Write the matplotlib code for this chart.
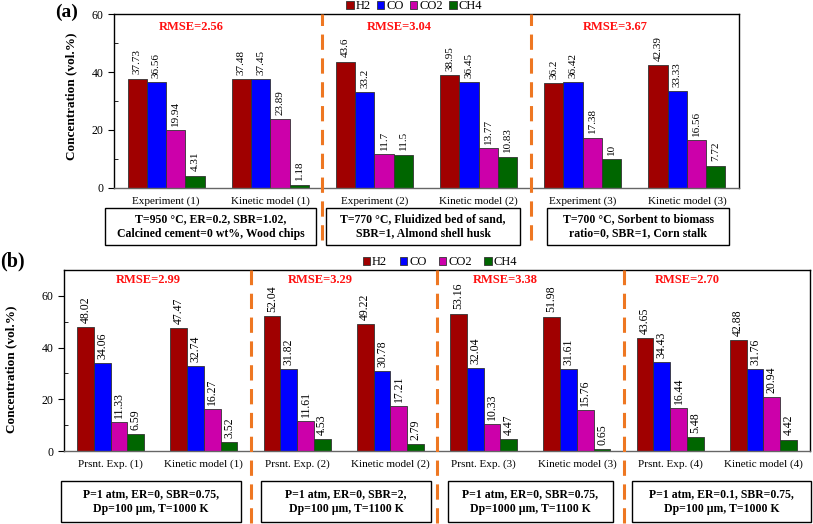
import numpy as np
import matplotlib
matplotlib.use("Agg")
import matplotlib.pyplot as plt
from matplotlib.patches import Rectangle, Patch
from matplotlib.ticker import MultipleLocator

plt.rcParams['font.family'] = ['Liberation Serif', 'DejaVu Serif']
plt.rcParams['mathtext.fontset'] = 'stix'

gases = ["H2", "CO", "CO2", "CH4"]
colors = ["#A00000", "#0000FF", "#CC00AA", "#006600"]

# panel (a)
cases_a = ["Experiment (1)", "Kinetic model (1)", "Experiment (2)", "Kinetic model (2)",
           "Experiment (3)", "Kinetic model (3)"]
h2_a = [37.73, 37.48, 43.6, 38.95, 36.2, 42.39]
co_a = [36.56, 37.45, 33.2, 36.45, 36.42, 33.33]
co2_a = [19.94, 23.89, 11.7, 13.77, 17.38, 16.56]
ch4_a = [4.31, 1.18, 11.5, 10.83, 10, 7.72]
rmse_a = ["RMSE=2.56", "RMSE=3.04", "RMSE=3.67"]
cond_a = ["T=950 °C, ER=0.2, SBR=1.02,\nCalcined cement=0 wt%, Wood chips",
          "T=770 °C, Fluidized bed of sand,\nSBR=1, Almond shell husk",
          "T=700 °C, Sorbent to biomass\nratio=0, SBR=1, Corn stalk"]

# panel (b)
cases_b = ["Prsnt. Exp. (1)", "Kinetic model (1)", "Prsnt. Exp. (2)", "Kinetic model (2)",
           "Prsnt. Exp. (3)", "Kinetic model (3)", "Prsnt. Exp. (4)", "Kinetic model (4)"]
h2_b = [48.02, 47.47, 52.04, 49.22, 53.16, 51.98, 43.65, 42.88]
co_b = [34.06, 32.74, 31.82, 30.78, 32.04, 31.61, 34.43, 31.76]
co2_b = [11.33, 16.27, 11.61, 17.21, 10.33, 15.76, 16.44, 20.94]
ch4_b = [6.59, 3.52, 4.53, 2.79, 4.47, 0.65, 5.48, 4.42]
rmse_b = ["RMSE=2.99", "RMSE=3.29", "RMSE=3.38", "RMSE=2.70"]
cond_b = ["P=1 atm, ER=0, SBR=0.75,\nDp=100 µm, T=1000 K",
          "P=1 atm, ER=0, SBR=2,\nDp=100 µm, T=1100 K",
          "P=1 atm, ER=0, SBR=0.75,\nDp=1000 µm, T=1100 K",
          "P=1 atm, ER=0.1, SBR=0.75,\nDp=100 µm, T=1000 K"]

W, H = 813, 524
fig = plt.figure(figsize=(W / 100, H / 100), dpi=100)


def px_axes(l, r, t, b):
    return fig.add_axes([l / W, 1 - b / H, (r - l) / W, (b - t) / H])


def draw_panel(ax, cases, series, bw, ymax, vsize, rmse, rmse_x, rmse_y, dash_ymin):
    x = np.arange(len(cases))
    for k, vals in enumerate(series):
        pos = x + (k - 1.5) * bw
        ax.bar(pos, vals, bw, color=colors[k], edgecolor="#333333", linewidth=0.6)
        for xi, v in zip(pos, vals):
            ax.annotate(f"{v:g}", (xi, v), xytext=(0, 3), textcoords="offset points",
                        rotation=90, ha="center", va="bottom", fontsize=vsize)
    ax.set_xlim(-0.5, len(cases) - 0.5)
    ax.set_ylim(0, ymax)
    ax.set_xticks(x)
    ax.set_xticklabels(cases, fontsize=8)
    ax.tick_params(axis="x", length=0, pad=6)
    ax.yaxis.set_major_locator(MultipleLocator(20))
    ax.yaxis.set_minor_locator(MultipleLocator(10))
    ax.tick_params(axis="y", which="major", direction="out", length=4, labelsize=8.5)
    ax.tick_params(axis="y", which="minor", direction="in", length=3)
    for s in ax.spines.values():
        s.set_linewidth(1.0)
    ax.spines["bottom"].set_color("#666666")
    for d in np.arange(1.5, len(cases) - 1, 2):
        ax.axvline(d, ymin=dash_ymin, ymax=1, color="#EE7722", lw=2.2,
                   ls=(0, (5, 2.8)), clip_on=False, zorder=5)
    for t, rx in zip(rmse, rmse_x):
        ax.text(rx, rmse_y, t, color="#FF1010", fontsize=9, fontweight="bold",
                ha="center", va="center")
    ax.set_ylabel("Concentration (vol.%)", fontsize=9.5, fontweight="bold")


def cond_boxes(boxes, texts, top, bottom):
    for (l, r), t in zip(boxes, texts):
        fig.add_artist(Rectangle((l / W, 1 - bottom / H), (r - l) / W, (bottom - top) / H,
                                 transform=fig.transFigure, fill=False, ec="black", lw=1.0))
        fig.text((l + r) / 2 / W, 1 - (top + bottom) / 2 / H, t, ha="center", va="center",
                 fontsize=8.5, fontweight="bold", linespacing=1.25)


handles = [Patch(facecolor=c, edgecolor="#333333", linewidth=0.6, label=g) for c, g in zip(colors, gases)]

# (a)
ax_a = px_axes(114, 739, 14, 188)
draw_panel(ax_a, cases_a, [h2_a, co_a, co2_a, ch4_a], 0.185, 60, 8, rmse_a,
           [0.24, 2.24, 4.31], 55.5, -0.30)
ax_a.yaxis.set_label_coords(-0.058, 0.53)
cond_boxes([(105, 316), (326, 520), (547, 729)], cond_a, 208, 245)
fig.legend(handles=handles, loc="center", bbox_to_anchor=(414 / W, 1 - 6 / H), ncol=4,
           frameon=False, fontsize=9, handlelength=0.6, handleheight=0.6,
           handletextpad=0.15, columnspacing=0.5, borderpad=0)
fig.text(55 / W, 1 - 12 / H, "(a)", fontsize=14, fontweight="bold", va="center")

# (b)
ax_b = px_axes(64, 810, 270, 451)
draw_panel(ax_b, cases_b, [h2_b, co_b, co2_b, ch4_b], 0.18, 70, 8.5, rmse_b,
           [0.40, 2.25, 4.23, 6.18], 66, -0.40)
ax_b.yaxis.set_label_coords(-0.063, 0.45)
cond_boxes([(61, 241), (261, 431), (448, 613), (632, 811)], cond_b, 481, 522)
fig.legend(handles=handles, loc="center", bbox_to_anchor=(440 / W, 1 - 262 / H), ncol=4,
           frameon=False, fontsize=9, handlelength=0.6, handleheight=0.6,
           handletextpad=0.15, columnspacing=1.0, borderpad=0)
fig.text(0 / W, 1 - 261 / H, "(b)", fontsize=14.5, fontweight="bold", va="center")

fig.savefig("out.png", dpi=100)
